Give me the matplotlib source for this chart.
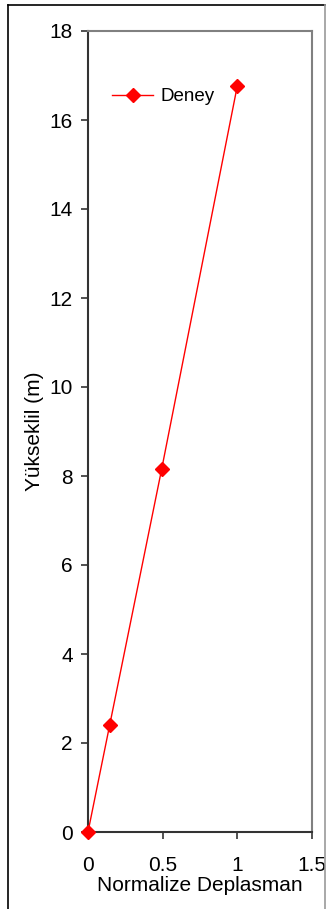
import matplotlib
matplotlib.use("Agg")
import matplotlib.pyplot as plt
from matplotlib.lines import Line2D

plt.rcParams['font.family'] = ['Liberation Sans', 'DejaVu Sans']

# Measured displacement profile
deplasman = [0.0, 0.145, 0.493, 1.0]
yukseklik = [0.0, 2.4, 8.15, 16.77]
series_label = "Deney"

x_ticks = [0, 0.5, 1, 1.5]
x_tick_labels = ["0", "0.5", "1", "1.5"]
y_ticks = [0, 2, 4, 6, 8, 10, 12, 14, 16, 18]

W, H = 326, 909
fig = plt.figure(figsize=(W / 100, H / 100), dpi=100)

# outer frame
fig.add_artist(Line2D([8 / W, 8 / W], [0, 1 - 5 / H], color="black", lw=1.2))
fig.add_artist(Line2D([8 / W, 325 / W], [1 - 5 / H, 1 - 5 / H], color="black", lw=1.2))
fig.add_artist(Line2D([325 / W, 325 / W], [0, 1 - 5 / H], color="#999999", lw=1.2))

ax = fig.add_axes([88 / W, 1 - 832 / H, (312 - 88) / W, (832 - 31) / H])
ax.plot(deplasman, yukseklik, color="red", lw=1.0, marker="D", ms=7,
        markeredgecolor="red", markerfacecolor="red", label=series_label,
        clip_on=False, zorder=5)

ax.set_xlim(0, 1.5)
ax.set_ylim(0, 18)
ax.set_xticks(x_ticks)
ax.set_xticklabels(x_tick_labels)
ax.set_yticks(y_ticks)

for side in ["top", "right"]:
    ax.spines[side].set_color("#808080")
    ax.spines[side].set_linewidth(1.5)
for side in ["left", "bottom"]:
    ax.spines[side].set_color("#333333")
    ax.spines[side].set_linewidth(1.5)

ax.tick_params(direction="out", length=5, width=1.2, color="#333333",
               labelsize=15)
ax.tick_params(axis="y", pad=6)
ax.tick_params(axis="x", pad=12)
ax.set_xlabel("Normalize Deplasman", fontsize=15, labelpad=1)
ax.set_ylabel("Yükseklil (m)", fontsize=15, labelpad=4)

ax.legend(loc="upper left", bbox_to_anchor=(112 / W, 1 - 88 / H),
          bbox_transform=fig.transFigure, frameon=False, fontsize=13.5,
          handlelength=2.2, handletextpad=0.4, borderpad=0, borderaxespad=0)

fig.savefig("out.png", dpi=100)
